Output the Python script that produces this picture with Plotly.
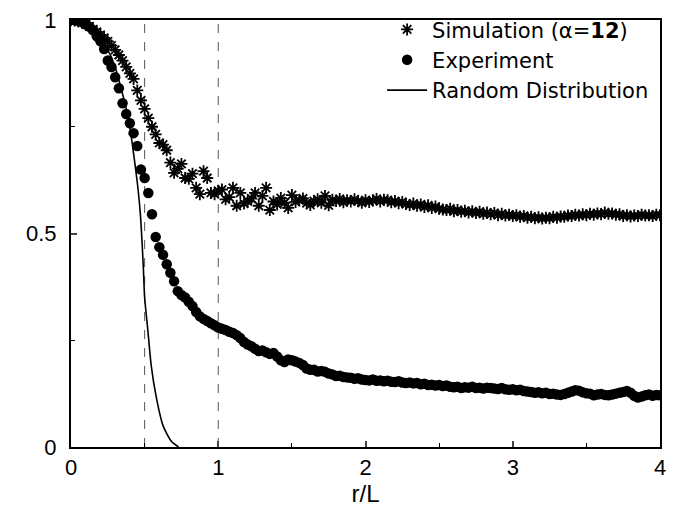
import plotly.graph_objects as go

# r/L grid shared by both measured series
r_grid = [
    0.000, 0.025, 0.050, 0.075, 0.100, 0.125, 0.150, 0.175, 0.200, 0.225,
    0.250, 0.275, 0.300, 0.325, 0.350, 0.375, 0.400, 0.425, 0.450, 0.475,
    0.500, 0.525, 0.550, 0.575, 0.600, 0.625, 0.650, 0.675, 0.700, 0.725,
    0.750, 0.775, 0.800, 0.825, 0.850, 0.875, 0.900, 0.925, 0.950, 0.975,
    1.000, 1.025, 1.050, 1.075, 1.100, 1.125, 1.150, 1.175, 1.200, 1.225,
    1.250, 1.275, 1.300, 1.325, 1.350, 1.375, 1.400, 1.425, 1.450, 1.475,
    1.500, 1.525, 1.550, 1.575, 1.600, 1.625, 1.650, 1.675, 1.700, 1.725,
    1.750, 1.775, 1.800, 1.825, 1.850, 1.875, 1.900, 1.925, 1.950, 1.975,
    2.000, 2.025, 2.050, 2.075, 2.100, 2.125, 2.150, 2.175, 2.200, 2.225,
    2.250, 2.275, 2.300, 2.325, 2.350, 2.375, 2.400, 2.425, 2.450, 2.475,
    2.500, 2.525, 2.550, 2.575, 2.600, 2.625, 2.650, 2.675, 2.700, 2.725,
    2.750, 2.775, 2.800, 2.825, 2.850, 2.875, 2.900, 2.925, 2.950, 2.975,
    3.000, 3.025, 3.050, 3.075, 3.100, 3.125, 3.150, 3.175, 3.200, 3.225,
    3.250, 3.275, 3.300, 3.325, 3.350, 3.375, 3.400, 3.425, 3.450, 3.475,
    3.500, 3.525, 3.550, 3.575, 3.600, 3.625, 3.650, 3.675, 3.700, 3.725,
    3.750, 3.775, 3.800, 3.825, 3.850, 3.875, 3.900, 3.925, 3.950, 3.975,
    4.000,
]

experiment = [
    1.000, 1.000, 0.998, 0.995, 0.990, 0.984, 0.976, 0.962, 0.950, 0.932,
    0.905, 0.890, 0.866, 0.840, 0.805, 0.780, 0.758, 0.735, 0.705, 0.650,
    0.630, 0.595, 0.545, 0.492, 0.468, 0.450, 0.428, 0.408, 0.388, 0.365,
    0.356, 0.350, 0.340, 0.330, 0.316, 0.306, 0.300, 0.295, 0.290, 0.285,
    0.280, 0.277, 0.274, 0.270, 0.267, 0.262, 0.255, 0.246, 0.240, 0.236,
    0.230, 0.225, 0.226, 0.222, 0.218, 0.220, 0.212, 0.203, 0.199, 0.205,
    0.203, 0.200, 0.197, 0.192, 0.184, 0.181, 0.181, 0.177, 0.178, 0.176,
    0.172, 0.170, 0.166, 0.167, 0.164, 0.163, 0.162, 0.160, 0.161, 0.158,
    0.157, 0.156, 0.158, 0.155, 0.156, 0.154, 0.155, 0.153, 0.152, 0.154,
    0.151, 0.150, 0.151, 0.149, 0.150, 0.147, 0.148, 0.145, 0.146, 0.144,
    0.145, 0.143, 0.144, 0.141, 0.140, 0.141, 0.138, 0.140, 0.139, 0.141,
    0.138, 0.139, 0.137, 0.139, 0.138, 0.137, 0.136, 0.138, 0.135, 0.134,
    0.135, 0.133, 0.134, 0.131, 0.130, 0.129, 0.127, 0.128, 0.126, 0.127,
    0.124, 0.125, 0.123, 0.122, 0.124, 0.127, 0.130, 0.133, 0.132, 0.128,
    0.126, 0.125, 0.121, 0.123, 0.124, 0.122, 0.121, 0.123, 0.125, 0.127,
    0.129, 0.131, 0.127, 0.120, 0.116, 0.118, 0.121, 0.123, 0.120, 0.122,
    0.121,
]

simulation = [
    1.000, 0.999, 0.997, 0.994, 0.990, 0.985, 0.978, 0.972, 0.965, 0.958,
    0.950, 0.940, 0.930, 0.918, 0.905, 0.890, 0.875, 0.862, 0.835, 0.812,
    0.792, 0.770, 0.750, 0.732, 0.712, 0.708, 0.695, 0.666, 0.642, 0.652,
    0.663, 0.630, 0.628, 0.640, 0.607, 0.592, 0.646, 0.630, 0.595, 0.592,
    0.600, 0.603, 0.580, 0.585, 0.607, 0.565, 0.595, 0.570, 0.575, 0.582,
    0.595, 0.565, 0.588, 0.607, 0.555, 0.575, 0.568, 0.583, 0.572, 0.560,
    0.590, 0.574, 0.578, 0.582, 0.571, 0.567, 0.576, 0.580, 0.572, 0.588,
    0.566, 0.579, 0.576, 0.581, 0.573, 0.578, 0.575, 0.580, 0.576, 0.572,
    0.578, 0.574, 0.577, 0.581, 0.575, 0.579, 0.578, 0.573, 0.576, 0.571,
    0.574, 0.569, 0.567, 0.570, 0.565, 0.568, 0.562, 0.566, 0.560, 0.563,
    0.558, 0.556, 0.555, 0.558, 0.552, 0.555, 0.551, 0.553, 0.549, 0.552,
    0.548, 0.551, 0.546, 0.549, 0.545, 0.548, 0.543, 0.546, 0.542, 0.544,
    0.541, 0.543, 0.539, 0.541, 0.537, 0.539, 0.536, 0.538, 0.535, 0.537,
    0.536, 0.539, 0.537, 0.540, 0.539, 0.542, 0.541, 0.544, 0.542, 0.545,
    0.543, 0.546, 0.544, 0.547, 0.545, 0.549, 0.546, 0.547, 0.544, 0.545,
    0.541, 0.543, 0.540, 0.542, 0.541, 0.544, 0.542, 0.543, 0.541, 0.544,
    0.543,
]

random_r = [0.00, 0.05, 0.10, 0.15, 0.20, 0.25, 0.30, 0.34, 0.39, 0.42,
            0.45, 0.47, 0.49, 0.50, 0.52, 0.545, 0.58, 0.625, 0.68, 0.73]
random_v = [1.000, 0.998, 0.990, 0.975, 0.955, 0.930, 0.890, 0.840, 0.770, 0.700,
            0.620, 0.550, 0.430, 0.350, 0.280, 0.190, 0.115, 0.050, 0.014, 0.000]

dashed_x = [0.5, 1.0]
x_ticks = [0, 1, 2, 3, 4]
y_ticks = [0, 0.5, 1]
y_tick_labels = ["0", "0.5", "1"]

FONT = "Liberation Sans, Arial, Helvetica, sans-serif"
LEGEND_FONT = "DejaVu Sans, Liberation Sans, Arial, sans-serif"

fig = go.Figure()
fig.add_trace(go.Scatter(
    x=r_grid, y=simulation, mode="markers", name="Simulation (α=<b>12</b>)",
    marker=dict(symbol="asterisk-open", size=10, color="black",
                line=dict(color="black", width=1.8)),
))
fig.add_trace(go.Scatter(
    x=r_grid, y=experiment, mode="markers", name="Experiment",
    marker=dict(symbol="circle", size=10.5, color="black"),
))
fig.add_trace(go.Scatter(
    x=random_r, y=random_v, mode="lines", name="Random Distribution",
    line=dict(color="black", width=1.6, shape="spline", smoothing=0.6),
))

for xv in dashed_x:
    fig.add_shape(type="line", xref="x", yref="paper", x0=xv, x1=xv, y0=0, y1=1,
                  line=dict(color="#555555", width=1, dash="dash"), layer="below")

fig.update_layout(
    width=678, height=506,
    margin=dict(l=63, r=26, t=12, b=67, autoexpand=False),
    paper_bgcolor="white", plot_bgcolor="white",
    font=dict(family=FONT, color="black", size=22),
    legend=dict(x=0.99, xanchor="right", y=1.025, yanchor="top",
                bgcolor="rgba(0,0,0,0)", font=dict(size=21, family=LEGEND_FONT),
                tracegroupgap=0, itemwidth=40),
    showlegend=True,
)
fig.update_xaxes(
    range=[0, 4], tickvals=x_ticks, ticks="inside", ticklen=6, tickwidth=1.5,
    showline=True, linecolor="black", linewidth=2, mirror=True, showgrid=False,
    zeroline=False, tickfont=dict(size=22, family=FONT), automargin=False,
    ticklabeloverflow="allow",
    minor=dict(dtick=0.5, ticks="inside", ticklen=4, tickwidth=1, tickcolor="black"),
    title=dict(text="r/L", font=dict(size=24, family=FONT), standoff=0),
)
fig.update_yaxes(
    range=[0, 1], tickvals=y_ticks, ticktext=y_tick_labels, ticks="inside",
    ticklen=6, tickwidth=1.5, showline=True, linecolor="black", linewidth=2,
    mirror=True, showgrid=False, zeroline=False, automargin=False,
    tickfont=dict(size=22, family=FONT), ticklabelstandoff=8,
    ticklabeloverflow="allow",
    minor=dict(dtick=0.25, ticks="inside", ticklen=4, tickwidth=1, tickcolor="black"),
)

fig.write_html("out.html")
